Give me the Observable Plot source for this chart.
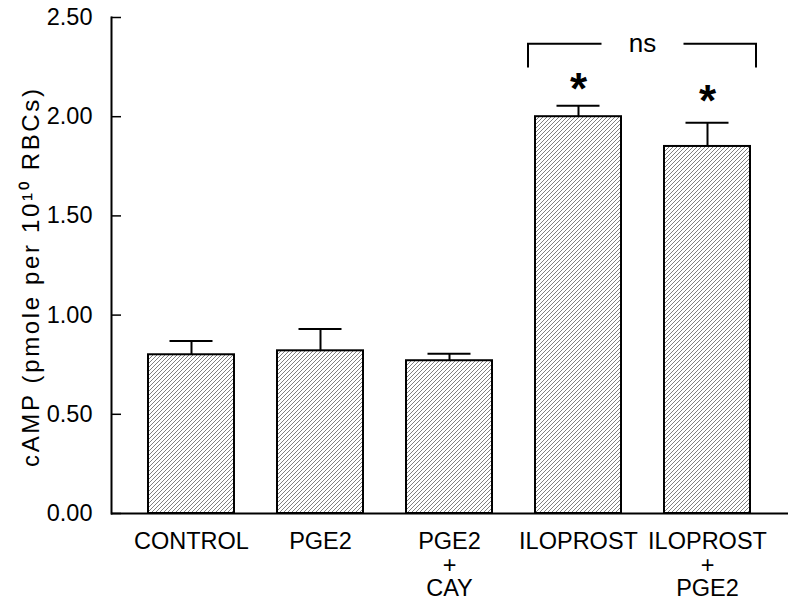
<!DOCTYPE html>
<html><head><meta charset="utf-8">
<script src="https://cdn.jsdelivr.net/npm/d3@7"></script>
<script src="https://cdn.jsdelivr.net/npm/@observablehq/plot@0.6"></script>
<style>body{margin:0;background:#fff;}</style>
</head><body><div id="chart"></div>
<script>
// Data
const categories = ["CONTROL", "PGE2", "PGE2\n+\nCAY", "ILOPROST", "ILOPROST\n+\nPGE2"];
const means = [0.80, 0.82, 0.77, 2.00, 1.85];
const sem = [0.07, 0.11, 0.035, 0.055, 0.12];
const yTicks = [0, 0.5, 1.0, 1.5, 2.0, 2.5];
const yLabel = "cAMP (pmole per 10¹⁰ RBCs)";
const starGroups = ["ILOPROST", "ILOPROST\n+\nPGE2"];
const starY = [2.17, 2.11];
const bracketGroups = ["ILOPROST", "ILOPROST\n+\nPGE2"];
const bracketTop = 2.365;
const bracketBottom = 2.245;
const bracketLabel = "ns";

const rows = categories.map((c, i) => ({cat: c, mean: means[i], top: means[i] + sem[i]}));

const W = 800, H = 607, mL = 111, mR = 12, mT = 17, mB = 94;

function hatchDefs() {
  const defs = d3.create("svg:defs");
  const p = defs.append("pattern").attr("id", "hatch").attr("patternUnits", "userSpaceOnUse")
    .attr("width", 4).attr("height", 4);
  p.append("rect").attr("width", 4).attr("height", 4).attr("fill", "white");
  p.append("path").attr("d", "M-1,1 l2,-2 M0,4 l4,-4 M3,5 l2,-2")
    .attr("stroke", "#555").attr("stroke-width", 0.75);
  return defs.node();
}

function yLabelMark(index, scales, values, dims) {
  const cy = (dims.marginTop + dims.height - dims.marginBottom) / 2 + 13;
  const g = d3.create("svg:g");
  g.append("text")
    .attr("transform", `translate(${dims.marginLeft - 80},${cy}) rotate(-90)`)
    .attr("text-anchor", "middle").attr("dy", "0.35em")
    .attr("font-size", 24).attr("fill", "black")
    .attr("textLength", 378).attr("lengthAdjust", "spacing")
    .text(yLabel);
  return g.node();
}

function bracketMark(index, scales) {
  const {x, y} = scales;
  const bw = x.bandwidth();
  const s1 = x(bracketGroups[0]), s2 = x(bracketGroups[1]);
  const xl = s1 - 7, xr = s2 + bw + 6;
  const mid = (s1 + s2 + bw) / 2, gap = 41;
  const yt = y(bracketTop), yb = y(bracketBottom);
  const g = d3.create("svg:g");
  g.append("path").attr("fill", "none").attr("stroke", "black").attr("stroke-width", 2)
    .attr("d", `M${xl},${yb}V${yt}H${mid - gap}M${mid + gap},${yt}H${xr}V${yb}`);
  g.append("text").attr("x", mid).attr("y", yt).attr("dy", "0.3em")
    .attr("text-anchor", "middle").attr("fill", "black").attr("font-size", 26)
    .text(bracketLabel);
  return g.node();
}

const chart = Plot.plot({
  width: W, height: H,
  marginLeft: mL, marginRight: mR, marginTop: mT, marginBottom: mB,
  style: {fontFamily: "'Liberation Sans', Arial, sans-serif", fontSize: "23px", background: "white", color: "black"},
  x: {domain: categories, paddingInner: 0.333, paddingOuter: 0.29},
  y: {domain: [0, 2.5]},
  marks: [
    hatchDefs,
    Plot.barY(rows, {x: "cat", y: "mean", fill: "url(#hatch)", stroke: "black", strokeWidth: 2}),
    Plot.ruleX(rows, {x: "cat", y1: "mean", y2: "top", stroke: "black", strokeWidth: 2}),
    Plot.tickY(rows, {x: "cat", y: "top", stroke: "black", strokeWidth: 2, insetLeft: 21.5, insetRight: 21.5}),
    Plot.ruleY([0], {stroke: "black", strokeWidth: 2}),
    Plot.frame({anchor: "left", stroke: "black", strokeWidth: 2}),
    Plot.tickY(yTicks, {y: d => d, stroke: "black", strokeWidth: 1.5, insetRight: W - mL - mR - 10}),
    Plot.axisY({ticks: yTicks, tickFormat: d3.format(".2f"), tickSize: 0, tickPadding: 19, label: null, fontSize: 23.5}),
    Plot.axisX({tickSize: 0, tickPadding: 19, label: null, fontSize: 23.5, lineHeight: 1.0}),
    yLabelMark,
    Plot.text(starGroups, {x: d => d, y: (d, i) => starY[i], text: () => "*", fontSize: 44, fontWeight: "bold", dy: 7}),
    bracketMark
  ]
});
document.getElementById("chart").appendChild(chart);
</script>
</body></html>
